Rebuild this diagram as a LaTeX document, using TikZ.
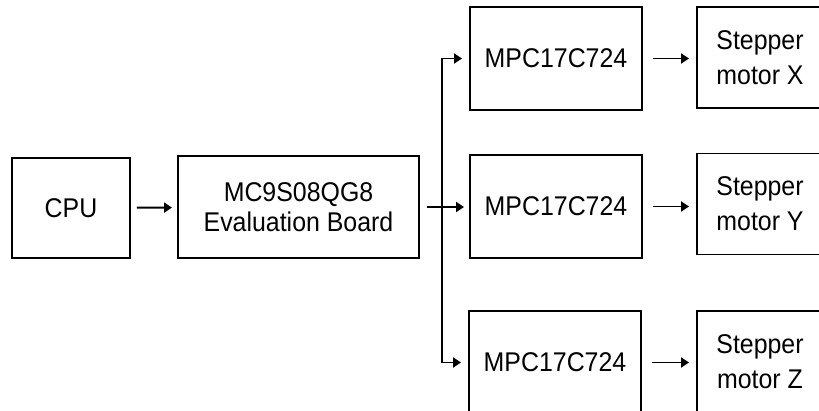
\documentclass[tikz,border=0pt]{standalone}
\usepackage{fontspec}
\setmainfont[FakeStretch=0.92]{Liberation Sans}
\usetikzlibrary{arrows.meta}

\begin{document}
\begin{tikzpicture} [>={Triangle[length=0.16cm,width=0.2cm]}, line width=1.1pt,
        box/.style = {draw, rectangle, inner sep=0pt, align=center, font=\fontsize{15.4}{17}\selectfont},
        motorbox/.style = {box, minimum width=2.52cm, minimum height=2.02cm, font=\fontsize{15.4}{19.9}\selectfont},
        link/.style = {->, shorten <=0.2cm, shorten >=0.14cm}]
        \useasboundingbox (0,0) rectangle (16.38,8.2);
        \clip (0,0) rectangle (16.38,8.2);
        \node [box, minimum width=2.36cm, minimum height=2cm] (cpu) at (1.42,4.04) {CPU};
        \node [box, minimum width=4.82cm, minimum height=2.04cm] (board) at (5.97,4.06) {MC9S08QG8\\Evaluation Board};
        \node [box, minimum width=3.44cm, minimum height=2.06cm] (mpcx) at (11.12,7.03) {MPC17C724};
        \node [box, minimum width=3.44cm, minimum height=2.06cm] (mpcy) at (11.12,4.07) {MPC17C724};
        \node [box, minimum width=3.44cm, minimum height=2.06cm] (mpcz) at (11.10,0.95) {MPC17C724};
        \node [motorbox] (motorx) at (15.20,7.05) {Stepper\\motor X};
        \node [motorbox] (motory) at (15.20,4.12) {Stepper\\motor Y};
        \node [motorbox] (motorz) at (15.20,0.97) {Stepper\\motor Z};
        \coordinate (fork) at (8.84,4.07);
        \draw [->, shorten <=0.12cm, shorten >=0.1cm] (cpu) -- (board);
        \draw [->, shorten <=0.14cm, shorten >=0.1cm] (board.east) -- (board.east -| mpcy.west);
        \draw [->, shorten >=0.14cm] (fork) |- (mpcx.west);
        \draw [->, shorten >=0.14cm] (fork) |- (mpcz.west);
        \draw [link] (mpcx) -- (mpcx -| motorx.west);
        \draw [link] (mpcy) -- (mpcy -| motory.west);
        \draw [link] (mpcz) -- (mpcz -| motorz.west);
    \end{tikzpicture}
\end{document}
